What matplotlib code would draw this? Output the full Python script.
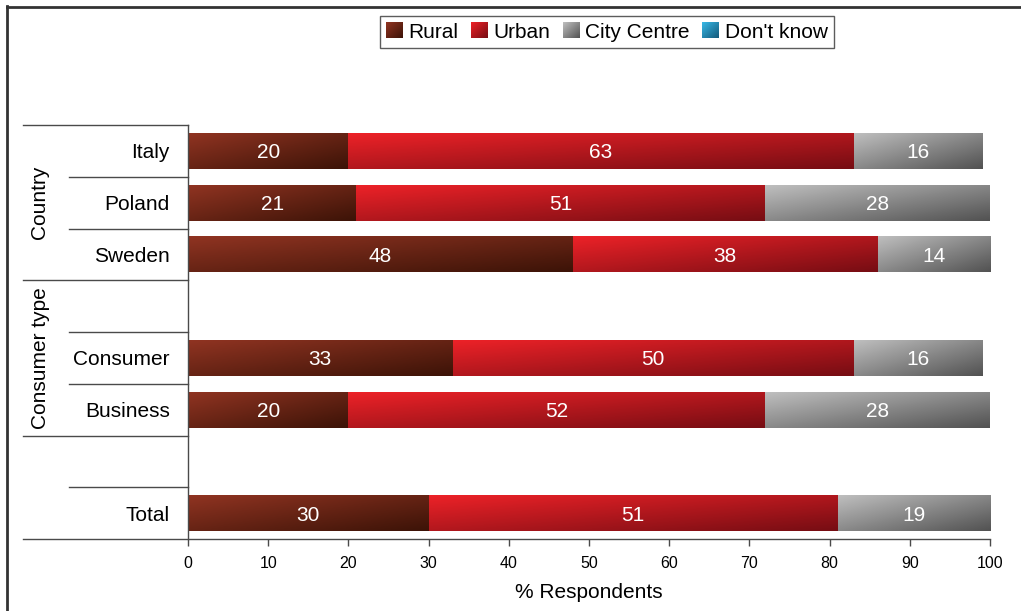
import numpy as np
import matplotlib
matplotlib.use("Agg")
import matplotlib.pyplot as plt
from matplotlib.colors import LinearSegmentedColormap, Normalize
from matplotlib.patches import Rectangle
from matplotlib.lines import Line2D
from matplotlib.legend_handler import HandlerBase
from matplotlib.image import BboxImage
from matplotlib.transforms import Bbox, TransformedBbox, blended_transform_factory

plt.rcParams['font.family'] = ['Liberation Sans', 'DejaVu Sans']

# ---- data -------------------------------------------------------------
rows = ['Italy', 'Poland', 'Sweden', '', 'Consumer', 'Business', '', 'Total']
bar_rows = ['Italy', 'Poland', 'Sweden', 'Consumer', 'Business', 'Total']
rural = [20, 21, 48, 33, 20, 30]
urban = [63, 51, 38, 50, 52, 51]
city_centre = [16, 28, 14, 16, 28, 19]
dont_know = [0, 0, 0, 0, 0, 0]
series_names = ['Rural', 'Urban', 'City Centre', "Don't know"]
group_names = ['Country', 'Consumer type']
xticks = list(range(0, 101, 10))

# ---- styling ----------------------------------------------------------
series_colors = [
    ('#913422', '#3c1307'),   # Rural
    ('#ee2228', '#760d13'),   # Urban
    ('#c0c0c0', '#525252'),   # City Centre
    ('#38b8e6', '#14597a'),   # Don't know
]
cmaps = [LinearSegmentedColormap.from_list(n, c) for n, c in zip(series_names, series_colors)]

# diagonal gradient: light top-left -> dark bottom-right
gy, gx = np.mgrid[0:1:64j, 0:1:64j]
grad = (gx + gy) / 2.0

W, H = 1021, 611
fig = plt.figure(figsize=(W / 100, H / 100), dpi=100)
ax = fig.add_axes([188 / W, 1 - 539 / H, (990 - 188) / W, (539 - 125) / H])

line_col = '#4a4a4a'
ypos = [rows.index(r) for r in bar_rows]
values = [rural, urban, city_centre, dont_know]

left = np.zeros(len(bar_rows))
for name, vals, cmap, cols in zip(series_names, values, cmaps, series_colors):
    vals = np.asarray(vals, dtype=float)
    bars = ax.barh(ypos, vals, left=left, height=0.7, color=cols[0],
                   edgecolor='none', label=name, zorder=1)
    for patch, v in zip(bars.patches, vals):
        if v <= 0:
            continue
        x0, y0 = patch.get_x(), patch.get_y()
        w, h = patch.get_width(), patch.get_height()
        img = ax.imshow(grad, cmap=cmap, norm=Normalize(0, 1),
                        extent=(x0, x0 + w, y0 + h, y0), aspect='auto',
                        interpolation='bilinear', zorder=2)
        img.set_clip_path(patch)
        ax.text(x0 + w / 2, y0 + h / 2, f'{v:g}', color='white',
                ha='center', va='center_baseline', fontsize=15, zorder=3)
    left = left + vals

ax.set_xlim(0, 100)
ax.set_ylim(len(rows) - 0.5, -0.5)

ax.set_xticks(xticks)
ax.set_yticks(range(len(rows)))
ax.set_yticklabels(rows)
ax.tick_params(axis='x', direction='out', length=5, width=1, color=line_col,
               labelsize=11.5, pad=7)
ax.tick_params(axis='y', length=0, labelsize=15, pad=13)

for s in ['top', 'right', 'bottom']:
    ax.spines[s].set_visible(False)
ax.spines['left'].set_color(line_col)
ax.spines['left'].set_linewidth(1)

# row separators and group brackets on the category side
tr = blended_transform_factory(ax.transAxes, ax.transData)
long_x = (23 - 188) / (990 - 188)
short_x = (69 - 188) / (990 - 188)
long_lines = [-0.5, 2.5, 5.5]
short_lines = [0.5, 1.5, 3.5, 4.5, 6.5]
for yb in long_lines:
    ax.plot([long_x, 0], [yb, yb], transform=tr, color=line_col, lw=1,
            clip_on=False, zorder=4)
for yb in short_lines:
    ax.plot([short_x, 0], [yb, yb], transform=tr, color=line_col, lw=1,
            clip_on=False, zorder=4)
ax.plot([long_x, 1], [7.5, 7.5], transform=tr, color=line_col, lw=1,
        clip_on=False, zorder=4)

group_x = (40 - 188) / (990 - 188)
for g, yc in zip(group_names, [1.0, 4.0]):
    ax.text(group_x, yc, g, transform=tr, rotation=90, ha='center',
            va='center', fontsize=15)

ax.set_xlabel('% Respondents', fontsize=15)
ax.xaxis.set_label_coords(0.5, -0.106)


# legend with gradient swatches
class GradientHandler(HandlerBase):
    def __init__(self, cmap):
        super().__init__()
        self.cmap = cmap

    def create_artists(self, legend, orig_handle, xdescent, ydescent,
                       width, height, fontsize, trans):
        bb = TransformedBbox(Bbox.from_bounds(-xdescent, -ydescent, width, height), trans)
        im = BboxImage(bb, cmap=self.cmap, norm=Normalize(0, 1),
                       interpolation='bilinear')
        im.set_data(grad)
        return [im]


handles = [Rectangle((0, 0), 1, 1, color=c[0]) for c in series_colors]
hmap = {h: GradientHandler(cm) for h, cm in zip(handles, cmaps)}
leg = fig.legend(handles, series_names, handler_map=hmap, ncol=4,
                 loc='center', bbox_to_anchor=(607 / W, 1 - 32 / H),
                 fontsize=15, frameon=True, fancybox=False, shadow=False,
                 handlelength=0.78, handleheight=0.78, handletextpad=0.3,
                 columnspacing=0.6, borderpad=0.3, borderaxespad=0)
leg.get_frame().set_edgecolor('#333333')
leg.get_frame().set_linewidth(1)

# outer frame (top and left edges)
fig.add_artist(Line2D([7 / W, 7 / W], [0, 1 - 6 / H], transform=fig.transFigure,
                      color='#333333', lw=2))
fig.add_artist(Line2D([7 / W, 1], [1 - 7 / H, 1 - 7 / H], transform=fig.transFigure,
                      color='#333333', lw=2))

fig.savefig('out.png', dpi=100, facecolor='white')
